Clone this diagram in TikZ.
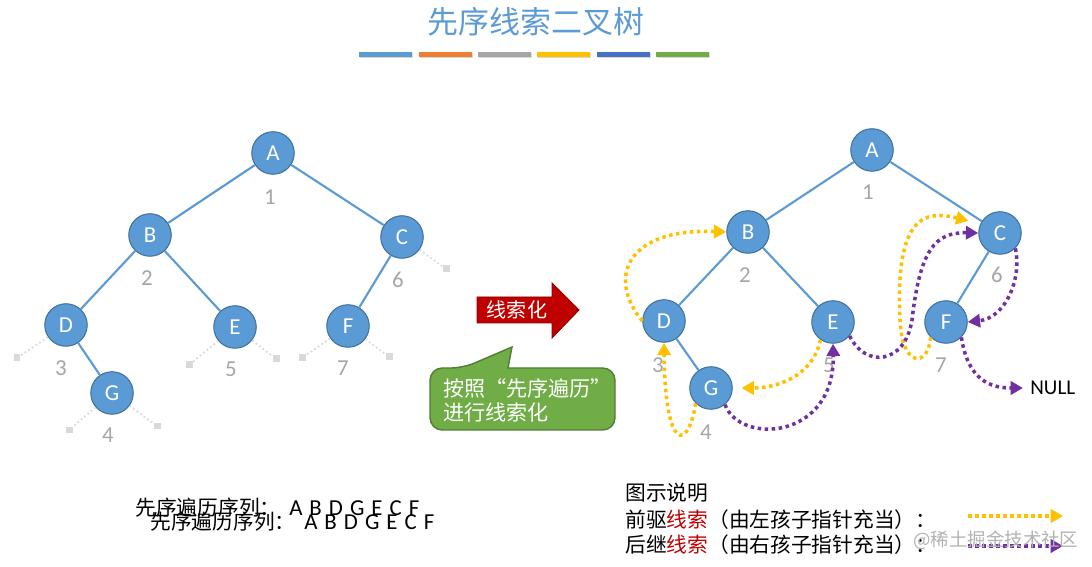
\documentclass[tikz,border=0pt]{standalone}
\usepackage{fontspec}
\setmainfont{Carlito}
\newfontfamily\cjk{Noto Sans CJK SC}
\usetikzlibrary{arrows.meta}

\definecolor{nodeblue}{HTML}{5B9BD5}
\definecolor{nodeline}{HTML}{41719C}
\definecolor{numgray}{HTML}{A6A6A6}
\definecolor{nilgray}{HTML}{D9D9D9}
\definecolor{predyellow}{HTML}{FFC000}
\definecolor{succpurple}{HTML}{7030A0}
\definecolor{arrowred}{HTML}{C00000}
\definecolor{callgreen}{HTML}{70AD47}
\definecolor{callline}{HTML}{507E32}
\definecolor{barorange}{HTML}{ED7D31}
\definecolor{bargray}{HTML}{A5A5A5}
\definecolor{bardblue}{HTML}{4472C4}

\newcommand{\seqletters}{{\rmfamily\fontsize{13}{15}\selectfont A\hspace{4pt}B\hspace{4pt}D\hspace{4pt}G\hspace{4pt}E\hspace{4pt}C\hspace{4pt}F}}

\begin{document}
\begin{tikzpicture}[x=0.02cm, y=-0.02cm,
  tnode/.style={circle, fill=nodeblue, draw=nodeline, line width=0.6pt, minimum size=0.85cm, inner sep=0pt, text=white, font=\fontsize{13}{15}\selectfont},
  tedge/.style={nodeblue, line width=1.2pt},
  num/.style={text=numgray, font=\fontsize{13}{15}\selectfont, inner sep=0pt},
  nilbox/.style={fill=nilgray, minimum size=0.14cm, inner sep=0pt},
  nilline/.style={nilgray, line width=1pt, dash pattern=on 1pt off 1.5pt},
  thread/.style={line width=2pt, dash pattern=on 2pt off 2pt, -{Triangle[length=7pt,width=7.5pt]}},
  pred/.style={thread, predyellow},
  succ/.style={thread, succpurple},
  cjktext/.style={font=\cjk\fontsize{11.8}{14}\selectfont, inner sep=0pt}
]
\useasboundingbox (0,0) rectangle (1092,567);

% title and colour bars
\node[font=\cjk\fontsize{17.6}{20}\selectfont, text=nodeblue] (title) at (536,22) {先序线索二叉树};
\foreach \c [count=\i] in {nodeblue,barorange,bargray,predyellow,bardblue,callgreen} {
  \fill[black!15] ({301+59.3*\i},53.5) rectangle +(53,5);
  \fill[\c] ({300+59.3*\i},52) rectangle +(53,5);
}

% left tree
\node[tnode] (lA) at (273,153) {A};
\node[tnode] (lB) at (150,235) {B};
\node[tnode] (lC) at (402,237) {C};
\node[tnode] (lD) at (66,325) {D};
\node[tnode] (lE) at (235,327) {E};
\node[tnode] (lF) at (348,326) {F};
\node[tnode] (lG) at (112,393) {G};
\draw[tedge] (lA) -- (lB);
\draw[tedge] (lA) -- (lC);
\draw[tedge] (lB) -- (lD);
\draw[tedge] (lB) -- (lE);
\draw[tedge] (lC) -- (lF);
\draw[tedge] (lD) -- (lG);
\node[num] (ln1) at (270,197) {1};
\node[num] (ln2) at (147,278) {2};
\node[num] (ln3) at (61,368) {3};
\node[num] (ln4) at (108,435) {4};
\node[num] (ln5) at (231,369) {5};
\node[num] (ln6) at (398,280) {6};
\node[num] (ln7) at (343,368) {7};
% empty pointers
\node[nilbox] (lCnil) at (446,269) {};
\node[nilbox] (lDnil) at (17,358) {};
\node[nilbox] (lEnilL) at (189,365) {};
\node[nilbox] (lEnilR) at (276,359) {};
\node[nilbox] (lFnilL) at (302,358) {};
\node[nilbox] (lFnilR) at (389,357) {};
\node[nilbox] (lGnilL) at (69,430) {};
\node[nilbox] (lGnilR) at (157,426) {};
\draw[nilline] (lC) -- (lCnil);
\draw[nilline] (lD) -- (lDnil);
\draw[nilline] (lE) -- (lEnilL);
\draw[nilline] (lE) -- (lEnilR);
\draw[nilline] (lF) -- (lFnilL);
\draw[nilline] (lF) -- (lFnilR);
\draw[nilline] (lG) -- (lGnilL);
\draw[nilline] (lG) -- (lGnilR);

% red arrow and callout
\fill[arrowred, draw=arrowred!70!black, line width=0.5pt] (477,297) -- (552,297) -- (552,283) -- (579,310) -- (552,338) -- (552,323) -- (477,323) -- cycle;
\node[cjktext, text=white, font=\cjk\fontsize{11.4}{13}\selectfont] (arrowlabel) at (517,310) {线索化};
\draw[fill=callgreen, draw=callline, line width=0.8pt] (463,368) -- (512,347) -- (508,368) [rounded corners=7pt] -- (615,368) -- (615,430) -- (430,430) -- (430,368) -- cycle;
\node[cjktext, text=white, align=left, anchor=west, font=\cjk\fontsize{12}{13.6}\selectfont] (calltext) at (443,400) {按照“先序遍历”\\进行线索化};

% right tree
\node[tnode] (rA) at (872,150) {A};
\node[tnode] (rB) at (748,232) {B};
\node[tnode] (rC) at (1000,233) {C};
\node[tnode] (rD) at (664,321) {D};
\node[tnode] (rE) at (833,322) {E};
\node[tnode] (rF) at (946,322) {F};
\node[tnode] (rG) at (711,388) {G};
\draw[tedge] (rA) -- (rB);
\draw[tedge] (rA) -- (rC);
\draw[tedge] (rB) -- (rD);
\draw[tedge] (rB) -- (rE);
\draw[tedge] (rC) -- (rF);
\draw[tedge] (rD) -- (rG);
\node[num] (rn1) at (868,192) {1};
\node[num] (rn2) at (745,275) {2};
\node[num] (rn3) at (658,365) {3};
\node[num] (rn4) at (706,432) {4};
\node[num] (rn5) at (829,365) {5};
\node[num] (rn6) at (997,275) {6};
\node[num] (rn7) at (941,365) {7};
\node[anchor=west, font=\fontsize{12}{14}\selectfont, inner sep=0pt] (null) at (1030,388) {NULL};

% predecessor threads
\draw[pred] (rD.west) .. controls (605,275) and (630,228) .. (rB.west);
\draw[pred] (rG.225) .. controls (688,452) and (665,452) .. (rD.south);
\draw[pred, shorten >=5pt] (rE.235) .. controls (812,378) and (775,388) .. (rG.east);
\draw[pred, shorten >=7pt] (rF.225) .. controls (928,368) and (902,368) .. (900,320) .. controls (895,215) and (925,210) .. (rC.155);
% successor threads
\draw[succ] (rG.-50) .. controls (740,445) and (835,440) .. (rE.south);
\draw[succ] (rE.-40) .. controls (865,368) and (905,365) .. (912,320) .. controls (920,250) and (935,232) .. (rC.west);
\draw[succ] (rC.-45) .. controls (1022,280) and (1005,318) .. (rF.east);
\draw[succ, shorten >=4pt] (rF.-45) .. controls (968,380) and (990,388) .. (null.west);

% preorder sequence (printed twice)
\node[cjktext, anchor=west] (seqa) at (135,508) {先序遍历序列：\hspace{5pt}\seqletters};
\node[cjktext, anchor=west] (seqb) at (150,522) {先序遍历序列：\hspace{5pt}\seqletters};

% legend
\node[cjktext, anchor=west] (legtitle) at (625,493) {图示说明};
\node[cjktext, anchor=west] (legpred) at (625,520) {前驱\textcolor{arrowred}{线索}（由左孩子指针充当）：};
\node[cjktext, anchor=west] (legsucc) at (625,545) {后继\textcolor{arrowred}{线索}（由右孩子指针充当）：};
\coordinate (predfrom) at (968,516);
\coordinate (predto) at (1063,516);
\coordinate (succfrom) at (968,546);
\coordinate (succto) at (1063,546);
\draw[pred] (predfrom) -- (predto);
\draw[succ] (succfrom) -- (succto);
\node[anchor=west, font=\cjk\fontsize{10.5}{12}\selectfont, text=black!30, inner sep=0pt] (mark) at (913,540) {@稀土掘金技术社区};
\end{tikzpicture}
\end{document}
